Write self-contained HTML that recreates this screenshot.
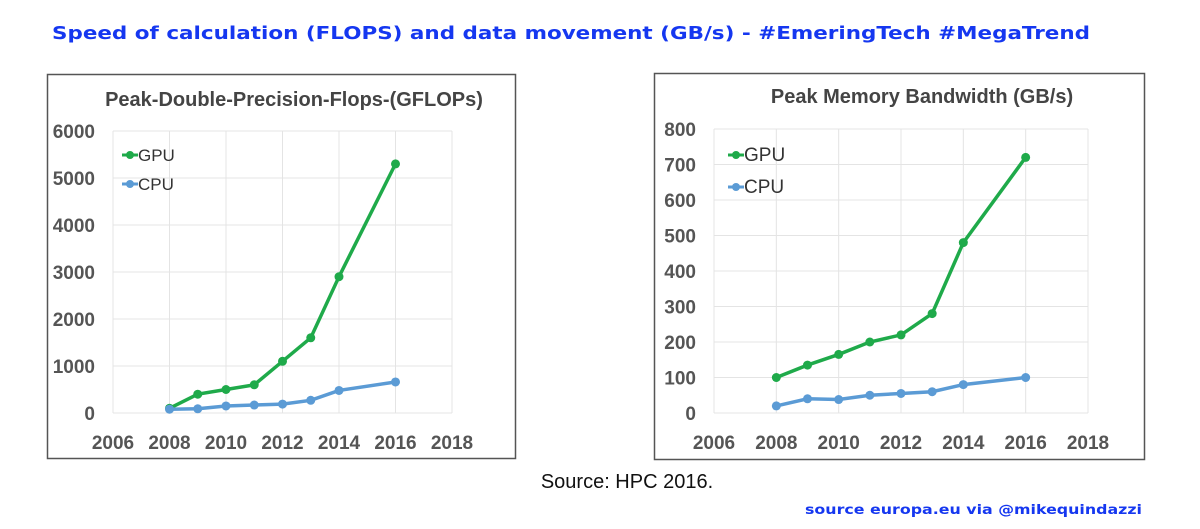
<!DOCTYPE html>
<html><head><meta charset="utf-8"><style>
html,body{margin:0;padding:0;background:#fff;}
svg{display:block;}
</style></head><body>
<svg id="s" width="1200" height="529" viewBox="0 0 1200 529" xmlns="http://www.w3.org/2000/svg">
<text x="52" y="39" font-family="DejaVu Sans, sans-serif" font-weight="bold" font-size="18" fill="#1537f0" textLength="1038" lengthAdjust="spacingAndGlyphs">Speed of calculation (FLOPS) and data movement (GB/s) - #EmeringTech #MegaTrend</text>
<rect x="47.5" y="74.5" width="468" height="384" fill="#fff" stroke="#555" stroke-width="1.5"/>
<rect x="654.5" y="73.5" width="490" height="386" fill="#fff" stroke="#555" stroke-width="1.5"/>
<text x="627" y="488" text-anchor="middle" font-family="Liberation Sans, sans-serif" font-size="20" fill="#111">Source: HPC 2016.</text>
<text x="805" y="514" font-family="DejaVu Sans, sans-serif" font-weight="bold" font-size="13" fill="#1537f0" textLength="337" lengthAdjust="spacingAndGlyphs">source europa.eu via @mikequindazzi</text>
<g id="left"></g>
<g id="right"></g>
</svg>
<script>
const years = [2008, 2009, 2010, 2011, 2012, 2013, 2014, 2016];
const xTicks = [2006, 2008, 2010, 2012, 2014, 2016, 2018];
const flopsGPU = [100, 400, 500, 600, 1100, 1600, 2900, 5300];
const flopsCPU = [80, 90, 150, 170, 190, 270, 480, 660];
const flopsYTicks = [0, 1000, 2000, 3000, 4000, 5000, 6000];
const bwGPU = [100, 135, 165, 200, 220, 280, 480, 720];
const bwCPU = [20, 40, 38, 50, 55, 60, 80, 100];
const bwYTicks = [0, 100, 200, 300, 400, 500, 600, 700, 800];

const NS = 'http://www.w3.org/2000/svg';
function mk(tag, attrs, parent) {
  const e = document.createElementNS(NS, tag);
  for (const k in attrs) e.setAttribute(k, attrs[k]);
  parent.appendChild(e);
  return e;
}
const GREEN = '#1faa4a', BLUE = '#5b9bd5';

function chart(g, cfg) {
  const xs = v => cfg.x0 + (v - 2006) / 12 * (cfg.x1 - cfg.x0);
  const ys = v => cfg.y0 - v / cfg.ymax * (cfg.y0 - cfg.y1);
  cfg.yTicks.forEach(t => {
    const l = mk('line', {x1: cfg.x0, x2: cfg.x1, y1: ys(t), y2: ys(t), stroke: '#e4e4e4', 'stroke-width': 1}, g);
    
    
    const tx = mk('text', {x: cfg.x0 - 18, y: ys(t) + 7, 'text-anchor': 'end', 'font-family': 'Liberation Sans, sans-serif', 'font-weight': 'bold', 'font-size': 19, fill: '#555'}, g);
    tx.textContent = t;
    
    
  });
  xTicks.forEach(t => {
    const l = mk('line', {x1: xs(t), x2: xs(t), y1: cfg.y1, y2: cfg.y0, stroke: '#e4e4e4', 'stroke-width': 1}, g);
    
    
    const tx = mk('text', {x: xs(t), y: cfg.y0 + 36, 'text-anchor': 'middle', 'font-family': 'Liberation Sans, sans-serif', 'font-weight': 'bold', 'font-size': 19, fill: '#555'}, g);
    tx.textContent = t;
    
    
  });
  const tt = mk('text', {x: cfg.tx, y: cfg.ty, 'text-anchor': 'middle', 'font-family': 'Liberation Sans, sans-serif', 'font-weight': 'bold', 'font-size': 20, fill: '#444'}, g);
  tt.textContent = cfg.title;
  
  
  [[cfg.gpu, GREEN, 'gpu'], [cfg.cpu, BLUE, 'cpu']].forEach(([vals, col, nm]) => {
    const p = mk('polyline', {points: vals.map((v, i) => xs(years[i]) + ',' + ys(v)).join(' '), fill: 'none', stroke: col, 'stroke-width': 3.5}, g);
    
    
    vals.forEach((v, i) => {
      const c = mk('circle', {cx: xs(years[i]), cy: ys(v), r: 4.5, fill: col}, g);
      
      
    });
  });
  [['GPU', GREEN, cfg.ly], ['CPU', BLUE, cfg.ly + cfg.lgap]].forEach(([lab, col, y]) => {
    const lg = mk('g', {}, g);
    
    
    mk('line', {x1: cfg.lx, x2: cfg.lx + 16, y1: y, y2: y, stroke: col, 'stroke-width': 3}, lg);
    mk('circle', {cx: cfg.lx + 8, cy: y, r: 4, fill: col}, lg);
    const t = mk('text', {x: cfg.lx + 16, y: y + 6, 'font-family': 'Liberation Sans, sans-serif', 'font-size': cfg.lfs, fill: '#333'}, lg);
    t.textContent = lab;
  });
}
chart(document.getElementById('left'), {x0: 113, x1: 452, y0: 413, y1: 131, ymax: 6000, yTicks: flopsYTicks, gpu: flopsGPU, cpu: flopsCPU, title: 'Peak-Double-Precision-Flops-(GFLOPs)', tx: 294, ty: 106, lx: 122, ly: 155, lgap: 29, lfs: 17});
chart(document.getElementById('right'), {x0: 714, x1: 1088, y0: 413, y1: 129, ymax: 800, yTicks: bwYTicks, gpu: bwGPU, cpu: bwCPU, title: 'Peak Memory Bandwidth (GB/s)', tx: 922, ty: 103, lx: 728, ly: 155, lgap: 32, lfs: 19});
</script>
</body></html>
